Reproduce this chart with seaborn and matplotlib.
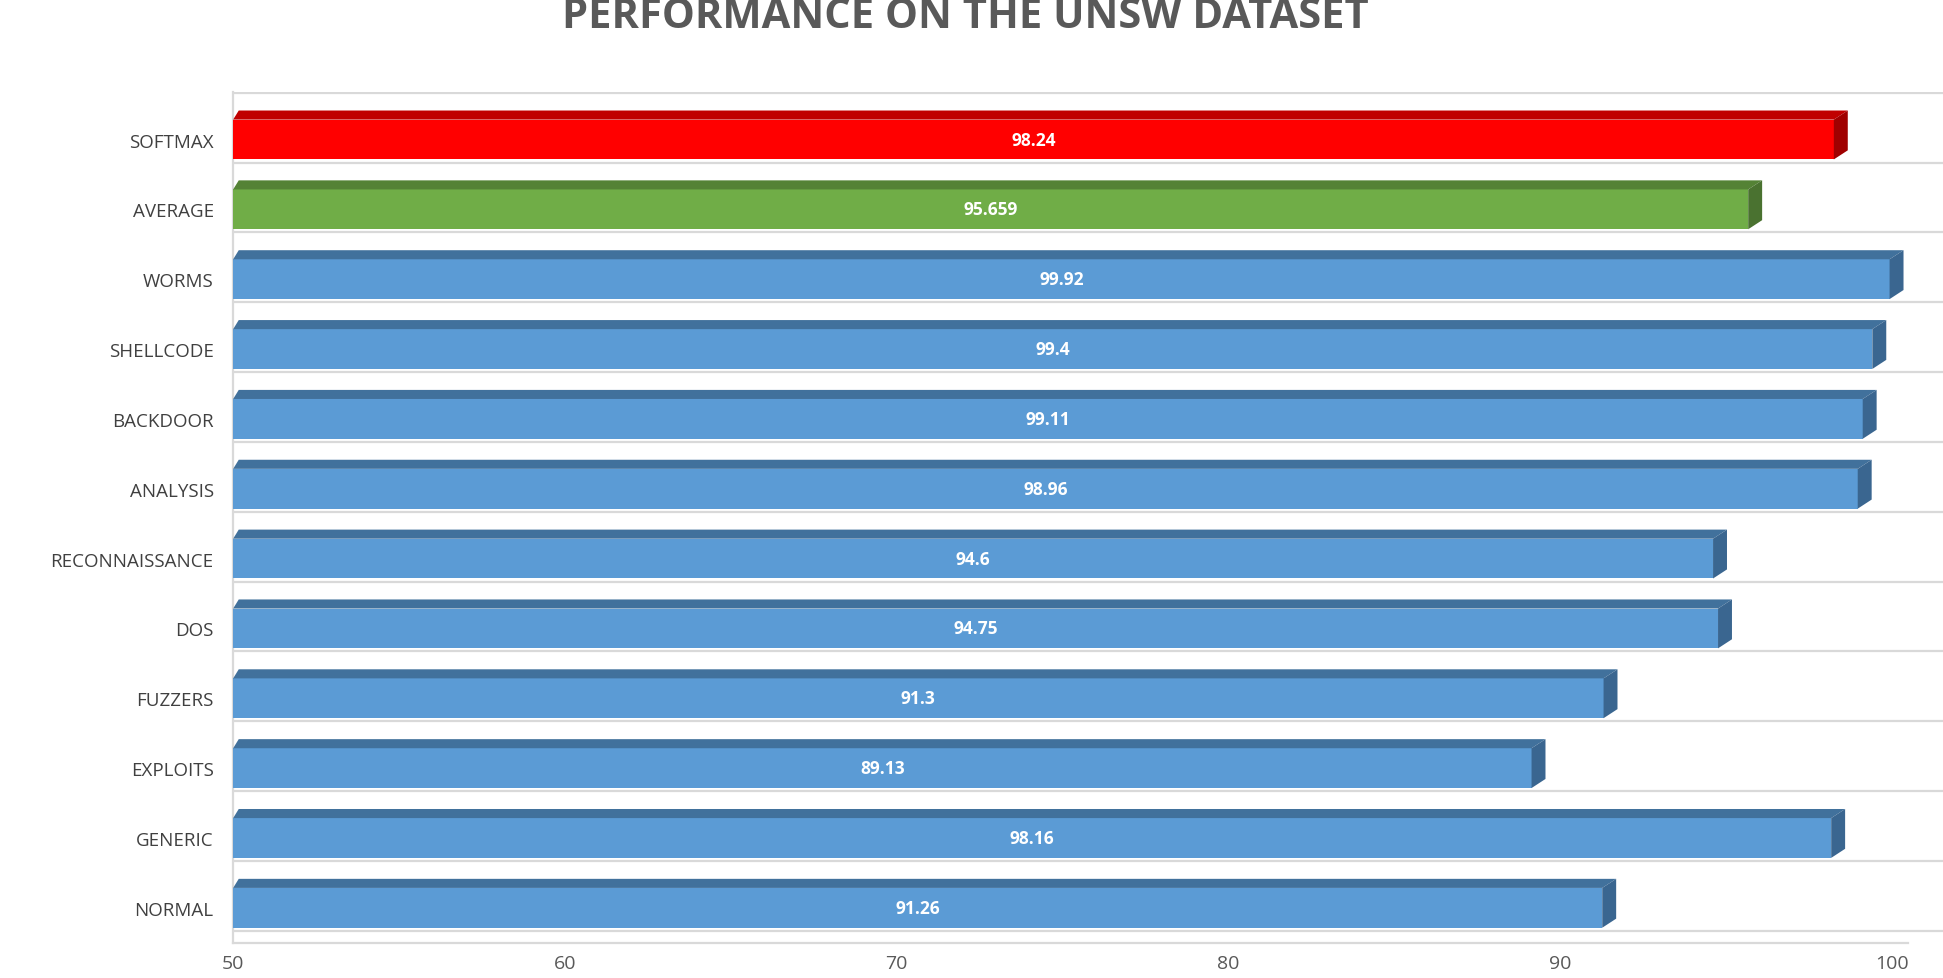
import numpy as np
import pandas as pd
import matplotlib
matplotlib.use("Agg")
import matplotlib.pyplot as plt
from matplotlib.patches import Polygon
import seaborn as sns

# data, top to bottom as in the chart
categories = ["SOFTMAX", "AVERAGE", "WORMS", "SHELLCODE", "BACKDOOR", "ANALYSIS",
              "RECONNAISSANCE", "DOS", "FUZZERS", "EXPLOITS", "GENERIC", "NORMAL"]
scores = [98.24, 95.659, 99.92, 99.4, 99.11, 98.96, 94.6, 94.75, 91.3, 89.13, 98.16, 91.26]
score_labels = ["98.24", "95.659", "99.92", "99.4", "99.11", "98.96",
                "94.6", "94.75", "91.3", "89.13", "98.16", "91.26"]
groups = ["softmax", "average"] + ["class"] * 10
x_ticks = [50, 60, 70, 80, 90, 100]

front_col = {"softmax": "#FF0000", "average": "#70AD47", "class": "#5B9BD5"}
top_col = {"softmax": "#C00000", "average": "#548235", "class": "#41719C"}
side_col = {"softmax": "#A00000", "average": "#4A7230", "class": "#3A6690"}

df = pd.DataFrame({"cat": categories, "score": scores, "grp": groups})

sns.set_theme(style="white")
plt.rcParams["font.family"] = ["Open Sans", "DejaVu Sans"]

fig = plt.figure(figsize=(19.43, 9.79), dpi=100)
ax = fig.add_axes([0.12, 0.036, 0.88, 0.869])

sns.barplot(data=df, x="score", y="cat", hue="grp", palette=front_col,
            orient="h", width=0.57, dodge=False, legend=False, ax=ax,
            saturation=1, edgecolor="none", zorder=3)

ax.set_xlim(50, 101.53)
ax.set_ylim(11.5, -0.68)

# pseudo-3D faces built from each bar
dx, dy = 0.42, 0.13
for p in ax.patches:
    g = groups[int(round(p.get_y() + p.get_height() / 2))]
    y0 = p.get_y()
    y1 = y0 + p.get_height()
    w = p.get_width()
    top = Polygon([(50, y0), (w, y0), (w + dx, y0 - dy), (50 + dx * 0.4, y0 - dy)],
                  closed=True, facecolor=top_col[g], edgecolor="none", zorder=3)
    side = Polygon([(w, y0), (w + dx, y0 - dy), (w + dx, y1 - dy), (w, y1)],
                   closed=True, facecolor=side_col[g], edgecolor="none", zorder=3)
    ax.add_patch(top)
    ax.add_patch(side)

# value labels in the middle of each bar
for i, (v, lab) in enumerate(zip(scores, score_labels)):
    ax.text((50 + v) / 2, i, lab, ha="center", va="center", color="white",
            fontsize=12.5, fontweight="bold", zorder=5)

# floor lines between bars
for i in range(len(categories)):
    ax.axhline(i - 0.67, color="#D9D9D9", lw=1.6, zorder=1)
ax.axhline(11.33, color="#D9D9D9", lw=1.6, zorder=1)

for s in ["top", "right"]:
    ax.spines[s].set_visible(False)
ax.spines["left"].set_color("#D9D9D9")
ax.spines["bottom"].set_color("#D9D9D9")
ax.spines["left"].set_linewidth(1.6)
ax.spines["bottom"].set_linewidth(1.6)
ax.spines["bottom"].set_bounds(50, 100.49)

ax.set_xticks(x_ticks)
ax.set_xticklabels([str(t) for t in x_ticks], fontsize=14, color="#595959")
ax.tick_params(axis="x", length=6, color="#D9D9D9", width=1.2, pad=2)
ax.tick_params(axis="y", length=0, pad=14)
for t in ax.get_yticklabels():
    t.set_fontsize(13.5)
    t.set_color("#404040")
ax.set_xlabel("")
ax.set_ylabel("")

fig.text(0.497, 0.982, "PERFORMANCE ON THE UNSW DATASET", ha="center", va="center",
         fontsize=30, fontweight="bold", color="#595959")

fig.savefig("out.png", dpi=100)
